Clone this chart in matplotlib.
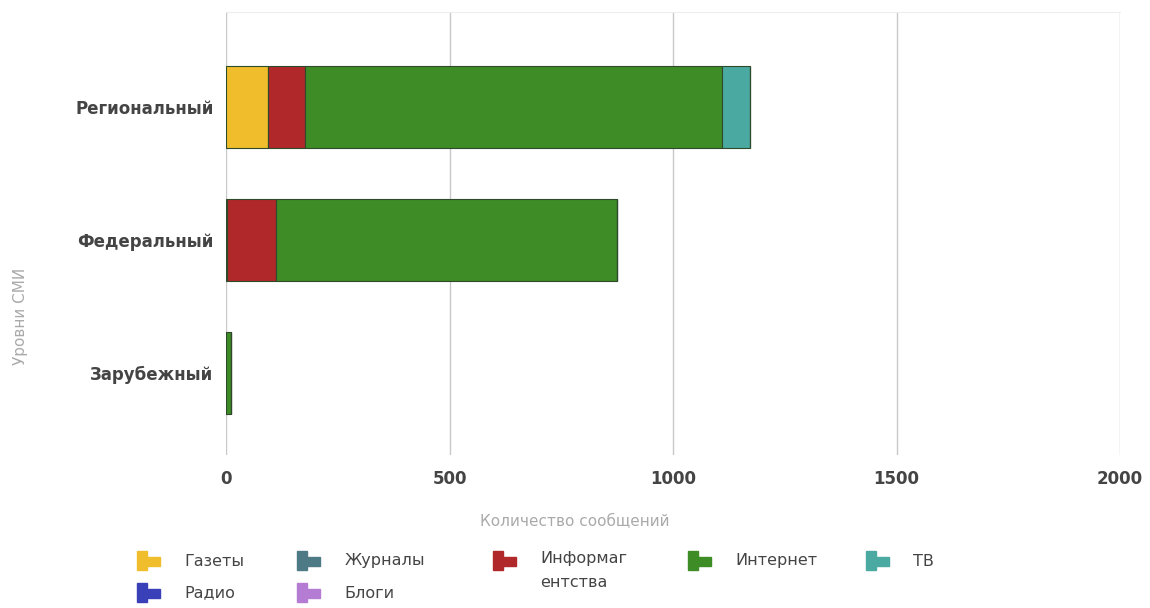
import matplotlib
matplotlib.use('Agg')
import matplotlib.pyplot as plt
import matplotlib.patches as mpatches
import numpy as np

levels = ['Региональный', 'Федеральный', 'Зарубежный']
series = ['Газеты', 'Журналы', 'Информагентства', 'Интернет', 'ТВ', 'Радио', 'Блоги']
legend_labels = ['Газеты', 'Журналы', 'Информаг\nентства', 'Интернет', 'ТВ', 'Радио', 'Блоги']
gazety = [94, 2, 0]
zhurnaly = [0, 0, 0]
inform = [83, 110, 0]
internet = [933, 763, 12]
tv = [62, 0, 0]
radio = [0, 0, 0]
blogi = [0, 0, 0]
values = [gazety, zhurnaly, inform, internet, tv, radio, blogi]
colors = ['#F0BE2C', '#4E7A86', '#B0282A', '#3E8C26', '#4AA9A0', '#3A40B8', '#B47CD2']

fig = plt.figure(figsize=(11.5, 6.08), dpi=100)
ax = fig.add_axes([0.1965, 0.2516, 0.7775, 0.7284])

y = np.arange(len(levels))
left = np.zeros(len(levels))
for vals, col in zip(values, colors):
    vals = np.array(vals, dtype=float)
    ax.barh(y, vals, left=left, height=0.62, color=col,
            edgecolor='#2f4a2a', linewidth=0.8, zorder=3)
    left += vals

ax.set_xlim(0, 2000)
ax.set_ylim(2.617, -0.714)
ax.set_xticks([0, 500, 1000, 1500, 2000])
ax.set_yticks(y)
ax.set_yticklabels(levels, fontsize=12, fontweight='bold', color='#444444')
for t in ax.get_xticklabels():
    t.set_fontsize(12)
    t.set_fontweight('bold')
    t.set_color('#444444')
ax.tick_params(length=0, pad=9)
ax.tick_params(axis='x', pad=11)
ax.grid(axis='x', color='#c8c8c8', lw=1.0, zorder=0)
for s in ax.spines.values():
    s.set_visible(False)
ax.spines['top'].set_visible(True)
ax.spines['top'].set_color('#eeeeee')

fig.text(575 / 1150, 1 - 522 / 608, 'Количество сообщений', color='#aaaaaa',
         fontsize=11, ha='center', va='center')
fig.text(0.018, 1 - 316 / 608, 'Уровни СМИ', rotation=90, color='#aaaaaa',
         fontsize=11, ha='center', va='center')

# legend
col_x = [137, 297, 493, 688, 866]
row_y = [561, 593]
for i, (lab, col) in enumerate(zip(legend_labels, colors)):
    r, c = divmod(i, 5)
    px, py = col_x[c], row_y[r]
    fx = px / 1150.0
    fy = 1 - py / 608.0
    fig.patches.append(mpatches.Rectangle((fx, fy - 0.015), 0.009, 0.032,
                       transform=fig.transFigure, color=col))
    fig.patches.append(mpatches.Rectangle((fx + 0.009, fy - 0.008), 0.011, 0.014,
                       transform=fig.transFigure, color=col))
    if '\n' in lab:
        fig.text(fx + 0.041, fy + 0.016, lab, fontsize=11.5, color='#444444',
                 ha='left', va='top', linespacing=1.75)
    else:
        fig.text(fx + 0.041, fy, lab, fontsize=11.5, color='#444444',
                 ha='left', va='center')

fig.savefig('out.png', dpi=100)
